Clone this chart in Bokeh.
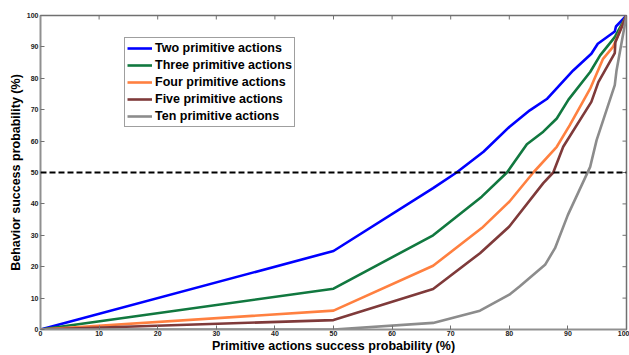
import math
from bokeh.plotting import figure
from bokeh.models import Span, Legend, LegendItem, FixedTicker, Range1d
from bokeh.embed import file_html
from bokeh.resources import INLINE

# ---- data ----
x_two = [0, 50, 67, 71, 75.6, 80, 83.5, 86.4, 90.9, 94, 95.1, 98, 98.2, 100]
y_two = [0, 25, 45, 50, 56.6, 64.5, 69.8, 73.4, 82.5, 87.8, 91, 94.9, 96.5, 100]

x_three = [0, 50, 67, 75.3, 79.6, 83, 85.8, 88.1, 90.1, 93.8, 95.5, 98, 100]
y_three = [0, 13, 30, 42.3, 50, 59, 63, 67.2, 73.2, 82, 87.3, 93.1, 100]

x_four = [0, 50, 67, 75.3, 80, 84.1, 88.1, 90.3, 93.8, 96, 97.7, 100]
y_four = [0, 6, 20.3, 32.3, 40.7, 50, 58.2, 65, 76.7, 86.2, 90, 100]

x_five = [0, 50, 67, 75, 80, 85.8, 87.5, 89.2, 94, 95.2, 98, 98.1, 100]
y_five = [0, 3, 12.9, 24.3, 32.8, 46.6, 50, 58.2, 72.5, 78.8, 88, 91.5, 100]

x_ten = [0, 50, 67, 75, 80, 81.8, 86.1, 87.8, 90, 93.8, 94.9, 98, 98.3, 100]
y_ten = [0, 0, 2.1, 6, 11.1, 13.8, 20.6, 25.9, 36.5, 51.8, 60.3, 77.8, 82.5, 100]

series_names = ["Two primitive actions", "Three primitive actions",
                "Four primitive actions", "Five primitive actions",
                "Ten primitive actions"]
series_colors = ["#0000FF", "#11783F", "#FF8040", "#7F3A3A", "#8C8C8C"]

threshold = 50
ticks = [0, 10, 20, 30, 40, 50, 60, 70, 80, 90, 100]
axis_max = 100

x_title = "Primitive actions success probability (%)"
y_title = "Behavior success probability (%)"

# ---- figure ----
p = figure(width=629, height=355, output_backend="svg", toolbar_location=None,
           x_range=Range1d(0, axis_max), y_range=Range1d(0, axis_max),
           min_border_left=40, min_border_right=3, min_border_top=15,
           min_border_bottom=25)
p.grid.visible = False
p.outline_line_color = "#707070"
p.outline_line_width = 1.5
p.background_fill_color = "white"
p.border_fill_color = "white"

for ax in (p.xaxis[0], p.yaxis[0]):
    ax.ticker = FixedTicker(ticks=ticks)
    ax.major_tick_in = 4
    ax.major_tick_out = 0
    ax.minor_tick_line_color = None
    ax.major_tick_line_color = "#707070"
    ax.axis_line_color = "#909090"
    ax.axis_line_width = 1.5
    ax.major_label_text_font = "Liberation Sans"
    ax.major_label_text_font_style = "bold"
    ax.major_label_text_font_size = "7px"
    ax.major_label_text_color = "#202020"
    ax.major_label_standoff = 2
    ax.axis_label_text_font = "Liberation Sans"
    ax.axis_label_text_font_style = "bold"
    ax.axis_label_text_font_size = "12.5px"
    ax.axis_label_text_color = "black"
    ax.axis_label_standoff = 1

p.xaxis[0].major_label_standoff = 1
p.xaxis[0].axis_label_standoff = 0
p.xaxis[0].axis_label = x_title
p.yaxis[0].axis_label = y_title

# mirrored inward ticks on the top and right edges (MATLAB box style)
p.scatter(ticks, [axis_max] * len(ticks), marker="dash", angle=math.pi / 2,
          size=8, line_color="#707070", line_width=1)
p.scatter([axis_max] * len(ticks), ticks, marker="dash", angle=0,
          size=8, line_color="#707070", line_width=1)

renderers = []
for xs, ys, c in zip([x_two, x_three, x_four, x_five, x_ten],
                     [y_two, y_three, y_four, y_five, y_ten], series_colors):
    r = p.line(xs, ys, line_color=c, line_width=2.6)
    renderers.append(r)

p.add_layout(Span(location=threshold, dimension="width", line_color="black",
                  line_width=2, line_dash="6 3"))

legend = Legend(items=[LegendItem(label=n, renderers=[r]) for n, r in zip(series_names, renderers)],
                location=(84, 202), orientation="vertical",
                label_text_font="Liberation Sans", label_text_font_style="bold",
                label_text_font_size="12.5px", label_text_color="black",
                glyph_width=25, glyph_height=16, label_height=16, label_standoff=3,
                spacing=1, padding=2, margin=0,
                border_line_color="#404040", border_line_width=1,
                background_fill_color="white", background_fill_alpha=1.0)
p.add_layout(legend, "center")

open("out.html", "w").write(file_html(p, INLINE))
